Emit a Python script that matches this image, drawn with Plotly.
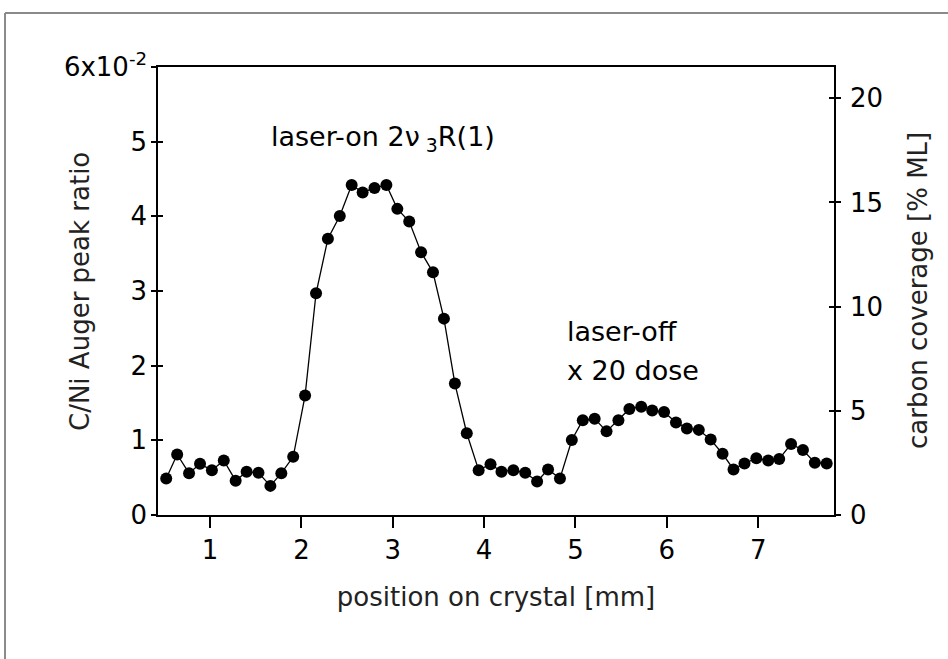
import plotly.graph_objects as go

# Data
position_mm = [0.52, 0.64, 0.77, 0.89, 1.02, 1.15, 1.28, 1.40, 1.53, 1.66,
               1.78, 1.91, 2.04, 2.16, 2.29, 2.42, 2.55, 2.67, 2.80, 2.93,
               3.05, 3.18, 3.31, 3.44, 3.56, 3.68, 3.81, 3.94, 4.07, 4.19,
               4.32, 4.45, 4.58, 4.70, 4.83, 4.96, 5.08, 5.21, 5.34, 5.47,
               5.59, 5.72, 5.84, 5.97, 6.10, 6.22, 6.35, 6.48, 6.61, 6.73,
               6.85, 6.98, 7.11, 7.23, 7.36, 7.49, 7.62, 7.75]
ratio_e2 = [0.49, 0.81, 0.56, 0.685, 0.60, 0.73, 0.46, 0.58, 0.565, 0.39,
            0.56, 0.78, 1.60, 2.97, 3.70, 4.005, 4.42, 4.32, 4.38, 4.42,
            4.10, 3.93, 3.52, 3.25, 2.63, 1.76, 1.095, 0.60, 0.68, 0.58,
            0.60, 0.565, 0.45, 0.61, 0.49, 1.005, 1.27, 1.29, 1.12, 1.27,
            1.42, 1.45, 1.40, 1.38, 1.24, 1.16, 1.14, 1.01, 0.82, 0.61,
            0.69, 0.76, 0.73, 0.75, 0.95, 0.87, 0.70, 0.69]

x_ticks = [1, 2, 3, 4, 5, 6, 7]
y_ticks = [0, 1, 2, 3, 4, 5, 6]
y_ticklabels = ["0", "1", "2", "3", "4", "5", "6x10<sup>-2</sup>"]
cov_ticks = [0, 5, 10, 15, 20]
cov_max = 21.5

x_title = "position on crystal [mm]"
y_title = "C/Ni Auger peak ratio"
y2_title = "carbon coverage [% ML]"

FONT = "DejaVu Sans"
FS_TICK = 26
FS_TITLE = 26
FS_NOTE = 27
TITLE_COLOR = "#222222"

fig = go.Figure()
fig.add_trace(go.Scatter(
    x=position_mm, y=ratio_e2, mode="lines+markers",
    line=dict(color="black", width=1.3),
    marker=dict(color="black", size=12),
    showlegend=False, hoverinfo="x+y"))

axis_common = dict(showgrid=False, zeroline=False, linecolor="black",
                   linewidth=1.5, tickcolor="black", tickwidth=1.5,
                   tickfont=dict(size=FS_TICK, family=FONT, color="black"))

fig.update_layout(
    width=948, height=659,
    margin=dict(l=158, r=114, t=67, b=144, autoexpand=False),
    paper_bgcolor="white", plot_bgcolor="white",
    font=dict(family=FONT, size=FS_TICK, color="black"),
    xaxis=dict(range=[0.43, 7.83], tickvals=x_ticks, ticks="outside",
               ticklen=11, showline=True, mirror=True,
               title=dict(text=x_title, standoff=24,
                          font=dict(size=FS_TITLE, color=TITLE_COLOR)),
               **axis_common),
    yaxis=dict(range=[0, 6], tickvals=y_ticks, ticktext=y_ticklabels,
               ticks="outside", ticklen=5, showline=True, ticklabelstandoff=-1,
               **axis_common),
    yaxis2=dict(range=[0, cov_max], tickvals=cov_ticks, ticks="outside",
                ticklen=5, showline=True, side="right", overlaying="y",
                ticklabelstandoff=4, **axis_common),
    yaxis3=dict(range=[0, 6], tickvals=y_ticks, ticks="inside", ticklen=5,
                showticklabels=False, showline=False, side="left",
                overlaying="y", **axis_common),
    yaxis4=dict(range=[0, cov_max], tickvals=cov_ticks, ticks="inside",
                ticklen=5, showticklabels=False, showline=False,
                side="right", overlaying="y", **axis_common),
)

# invisible helpers so the secondary axes are drawn
for ax in ["y2", "y3", "y4"]:
    fig.add_trace(go.Scatter(x=[None], y=[None], yaxis=ax, mode="markers",
                             showlegend=False, hoverinfo="skip"))

# vertical axis titles
fig.add_annotation(x=-0.1154, y=0.5, xref="paper", yref="paper",
                   text=y_title, textangle=-90, showarrow=False,
                   xanchor="center", yanchor="middle",
                   font=dict(size=FS_TITLE, family=FONT, color=TITLE_COLOR))
fig.add_annotation(x=1.1243, y=0.5, xref="paper", yref="paper",
                   text=y2_title, textangle=-90, showarrow=False,
                   xanchor="center", yanchor="middle",
                   font=dict(size=FS_TITLE, family=FONT, color=TITLE_COLOR))

# in-plot labels
fig.add_annotation(x=1.64, y=5.04, xref="x", yref="y",
                   text="laser-on 2\u03bd<sub> 3</sub>R(1)", showarrow=False,
                   xanchor="left", yanchor="middle",
                   font=dict(size=FS_NOTE, family=FONT))
fig.add_annotation(x=4.88, y=2.46, xref="x", yref="y", text="laser-off",
                   showarrow=False, xanchor="left", yanchor="middle",
                   font=dict(size=FS_NOTE, family=FONT))
fig.add_annotation(x=4.88, y=1.93, xref="x", yref="y", text="x 20 dose",
                   showarrow=False, xanchor="left", yanchor="middle",
                   font=dict(size=FS_NOTE, family=FONT))

# outer gray frame (top and left edges)
fig.add_shape(type="line", xref="paper", yref="paper",
              x0=-0.2263, y0=1.1205, x1=1.1686, y1=1.1205,
              line=dict(color="#8a8a8a", width=2))
fig.add_shape(type="line", xref="paper", yref="paper",
              x0=-0.2263, y0=1.1205, x1=-0.2263, y1=-0.3214,
              line=dict(color="#8a8a8a", width=2))

fig.write_html("out.html", config={"displayModeBar": False},
               post_script="document.body.style.margin='0px';")
